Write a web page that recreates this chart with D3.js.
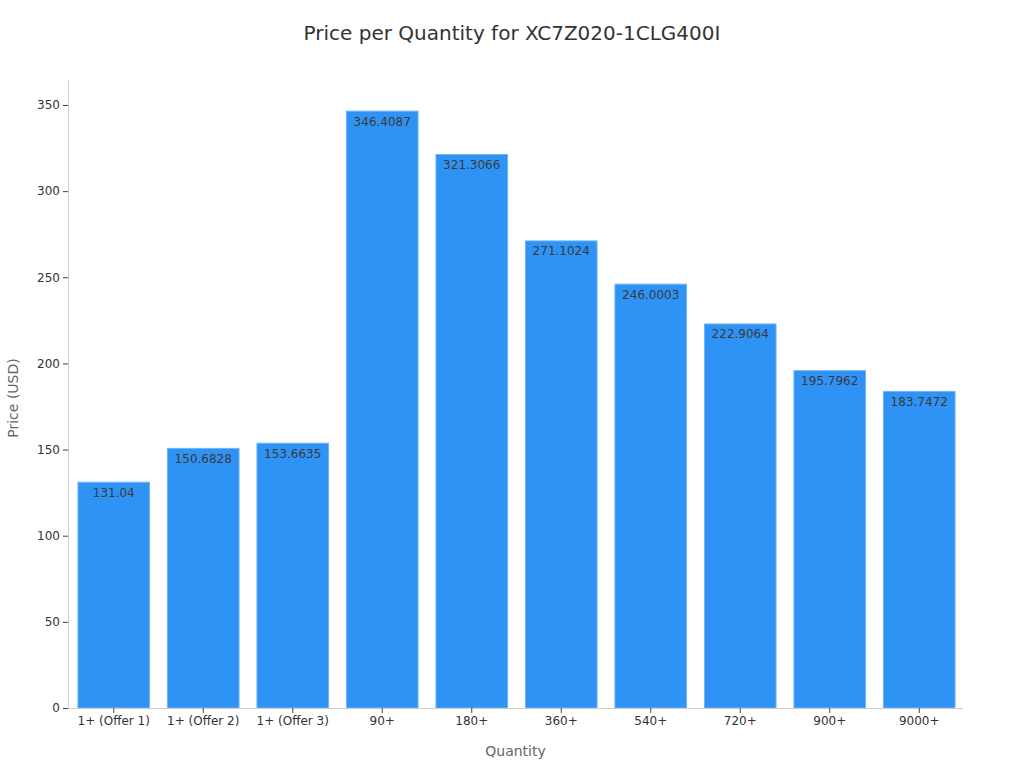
<!DOCTYPE html>
<html><head><meta charset="utf-8">
<script src="https://cdn.jsdelivr.net/npm/d3@7"></script>
<style>body{margin:0;background:#fff;font-family:"DejaVu Sans",sans-serif;}</style>
</head><body>
<svg id="c" width="1024" height="768"></svg>
<script>
const categories = ["1+ (Offer 1)","1+ (Offer 2)","1+ (Offer 3)","90+","180+","360+","540+","720+","900+","9000+"];
const prices = [131.04,150.6828,153.6635,346.4087,321.3066,271.1024,246.0003,222.9064,195.7962,183.7472];
const yTicks = [0,50,100,150,200,250,300,350];

const svg = d3.select("#c");
const m = {l:68, r:963, t:80, b:708};
const x = d3.scaleBand().domain(categories).range([m.l+1, m.r+1]).paddingInner(0.2).paddingOuter(0.1);
const y = d3.scaleLinear().domain([0, 364.5]).range([m.b, m.t]);

svg.append("text").attr("x",512).attr("y",40).attr("text-anchor","middle")
  .attr("font-size",20).attr("fill","#333").text("Price per Quantity for XC7Z020-1CLG400I");

svg.selectAll("rect.bar").data(prices).join("rect").attr("class","bar")
  .attr("x",(d,i)=>x(categories[i])).attr("width",x.bandwidth())
  .attr("y",d=>y(d)).attr("height",d=>m.b-y(d))
  .attr("fill","#2e93f5").attr("stroke","#6fb4f8").attr("stroke-width",1);

svg.selectAll("text.lbl").data(prices).join("text").attr("class","lbl")
  .attr("x",(d,i)=>x(categories[i])+x.bandwidth()/2).attr("y",d=>y(d)+14.5)
  .attr("text-anchor","middle").attr("font-size",12).attr("fill","#3a3a3a")
  .text(d=>d);

const ya = svg.append("g").attr("transform",`translate(${m.l},0)`)
  .call(d3.axisLeft(y).tickValues(yTicks).tickSize(5).tickPadding(3).tickSizeOuter(0));
ya.select(".domain").attr("stroke","#ccc");
ya.selectAll(".tick line").attr("stroke","#444");
ya.selectAll(".tick text").attr("font-size",12).attr("fill","#333").attr("font-family","DejaVu Sans");

const xa = svg.append("g").attr("transform",`translate(0,${m.b})`)
  .call(d3.axisBottom(x).tickSize(5).tickPadding(3).tickSizeOuter(0));
xa.select(".domain").attr("stroke","#ccc").attr("d",`M${m.l},0.5H${m.r}`);
xa.selectAll(".tick line").attr("stroke","#444");
xa.selectAll(".tick text").attr("font-size",12).attr("fill","#333").attr("font-family","DejaVu Sans");

svg.append("text").attr("x",(m.l+m.r)/2).attr("y",756).attr("text-anchor","middle")
  .attr("font-size",14).attr("fill","#666").text("Quantity");
svg.append("text").attr("transform",`translate(18,${(m.t+m.b)/2+4}) rotate(-90)`).attr("text-anchor","middle")
  .attr("font-size",14).attr("fill","#666").text("Price (USD)");
</script>
</body></html>
